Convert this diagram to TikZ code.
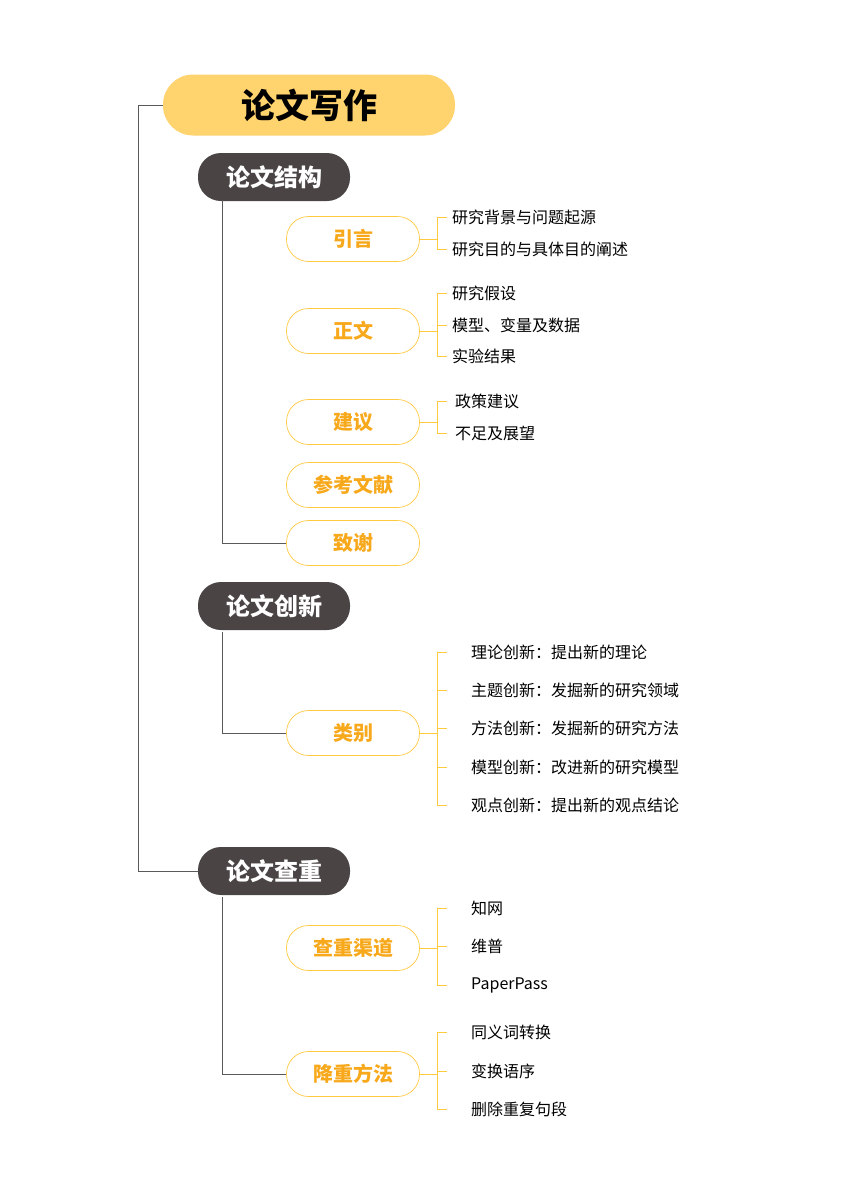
\documentclass[tikz,border=0pt]{standalone}
\usepackage{fontspec}
\setmainfont{Noto Sans CJK SC}
\begin{document}
\begin{tikzpicture}[x=1pt,y=-1pt,
 root/.style={fill=rootc,rounded corners=30pt,minimum width=292pt,minimum height=61pt,font=\fontsize{34}{40}\selectfont\bfseries,text=black},
 lone/.style={fill=darkc,rounded corners=23pt,minimum width=152pt,minimum height=48pt,font=\fontsize{24}{28}\selectfont\bfseries,text=white},
 ltwo/.style={draw=orc,fill=white,rounded corners=22pt,minimum width=133pt,minimum height=45pt,font=\fontsize{20}{24}\selectfont\bfseries,text=ortc,line width=0.7pt},
 leaf/.style={anchor=west,font=\fontsize{16}{18}\selectfont,text=black,inner sep=0pt},
 dl/.style={draw=linec,line width=0.9pt},
 ol/.style={draw=orc,line width=0.7pt}]
\definecolor{rootc}{HTML}{FFD36E}
\definecolor{darkc}{HTML}{4A4544}
\definecolor{orc}{HTML}{FFC940}
\definecolor{ortc}{HTML}{F7A81B}
\definecolor{linec}{HTML}{5A5A5A}
\useasboundingbox (0,0) rectangle (848,1200);
\node[root] (r) at (309,105) {论文写作};
\node[lone] (a) at (274,177) {论文结构};
\node[lone] (b) at (274,606) {论文创新};
\node[lone] (c) at (274,871) {论文查重};
\coordinate (r1) at (138,105);
\coordinate (r2) at (138,871);
\draw[dl] (r.west) -- (r1) -- (r2) -- (c.west);
% level 2
\node[ltwo] (a1) at (353,239) {引言};
\node[ltwo] (a2) at (353,331) {正文};
\node[ltwo] (a3) at (353,422) {建议};
\node[ltwo] (a4) at (353,485) {参考文献};
\node[ltwo] (a5) at (353,543) {致谢};
\node[ltwo] (b1) at (353,733) {类别};
\node[ltwo] (c1) at (353,948) {查重渠道};
\node[ltwo] (c2) at (353,1074) {降重方法};
\coordinate (ka) at (222,200); \coordinate (ka2) at (222,543);
\draw[dl] (ka) -- (ka2) -- (a5.west);
\coordinate (kb) at (222,632); \coordinate (kb2) at (222,733);
\draw[dl] (kb) -- (kb2) -- (b1.west);
\coordinate (kc) at (222,897); \coordinate (kc2) at (222,1074);
\draw[dl] (kc) -- (kc2) -- (c2.west);
% leaves
\newcommand{\leafgroup}[4]{% node, textx, list of y/text, id
  \foreach \yy/\tt [count=\i] in {#3} {
    \node[leaf] (#4\i) at (#2,\yy) {\tt};
    \coordinate (#4t\i) at (437,\yy);
    \coordinate (#4e\i) at (447,\yy);
    \draw[ol] (#4t\i) -- (#4e\i);
  }
}
\leafgroup{a1}{452}{217/研究背景与问题起源,249/研究目的与具体目的阐述}{p}
\coordinate (pm) at (437,239); \draw[ol] (a1.east) -- (pm); \draw[ol] (pt1) -- (pt2);
\leafgroup{a2}{452}{293/研究假设,325/{模型、变量及数据},356/实验结果}{q}
\coordinate (qm) at (437,331); \draw[ol] (a2.east) -- (qm); \draw[ol] (qt1) -- (qt3);
\leafgroup{a3}{455}{401/政策建议,433/不足及展望}{s}
\coordinate (sm) at (437,422); \draw[ol] (a3.east) -- (sm); \draw[ol] (st1) -- (st2);
\leafgroup{b1}{471}{652/理论创新：提出新的理论,690/主题创新：发掘新的研究领域,728/方法创新：发掘新的研究方法,767/模型创新：改进新的研究模型,805/观点创新：提出新的观点结论}{u}
\coordinate (um) at (437,733); \draw[ol] (b1.east) -- (um); \draw[ol] (ut1) -- (ut5);
\leafgroup{c1}{471}{908/知网,946/维普,985/PaperPass}{v}
\coordinate (vm) at (437,948); \draw[ol] (c1.east) -- (vm); \draw[ol] (vt1) -- (vt3);
\leafgroup{c2}{471}{1032/同义词转换,1071/变换语序,1109/删除重复句段}{w}
\coordinate (wm) at (437,1074); \draw[ol] (c2.east) -- (wm); \draw[ol] (wt1) -- (wt3);
\end{tikzpicture}
\end{document}
